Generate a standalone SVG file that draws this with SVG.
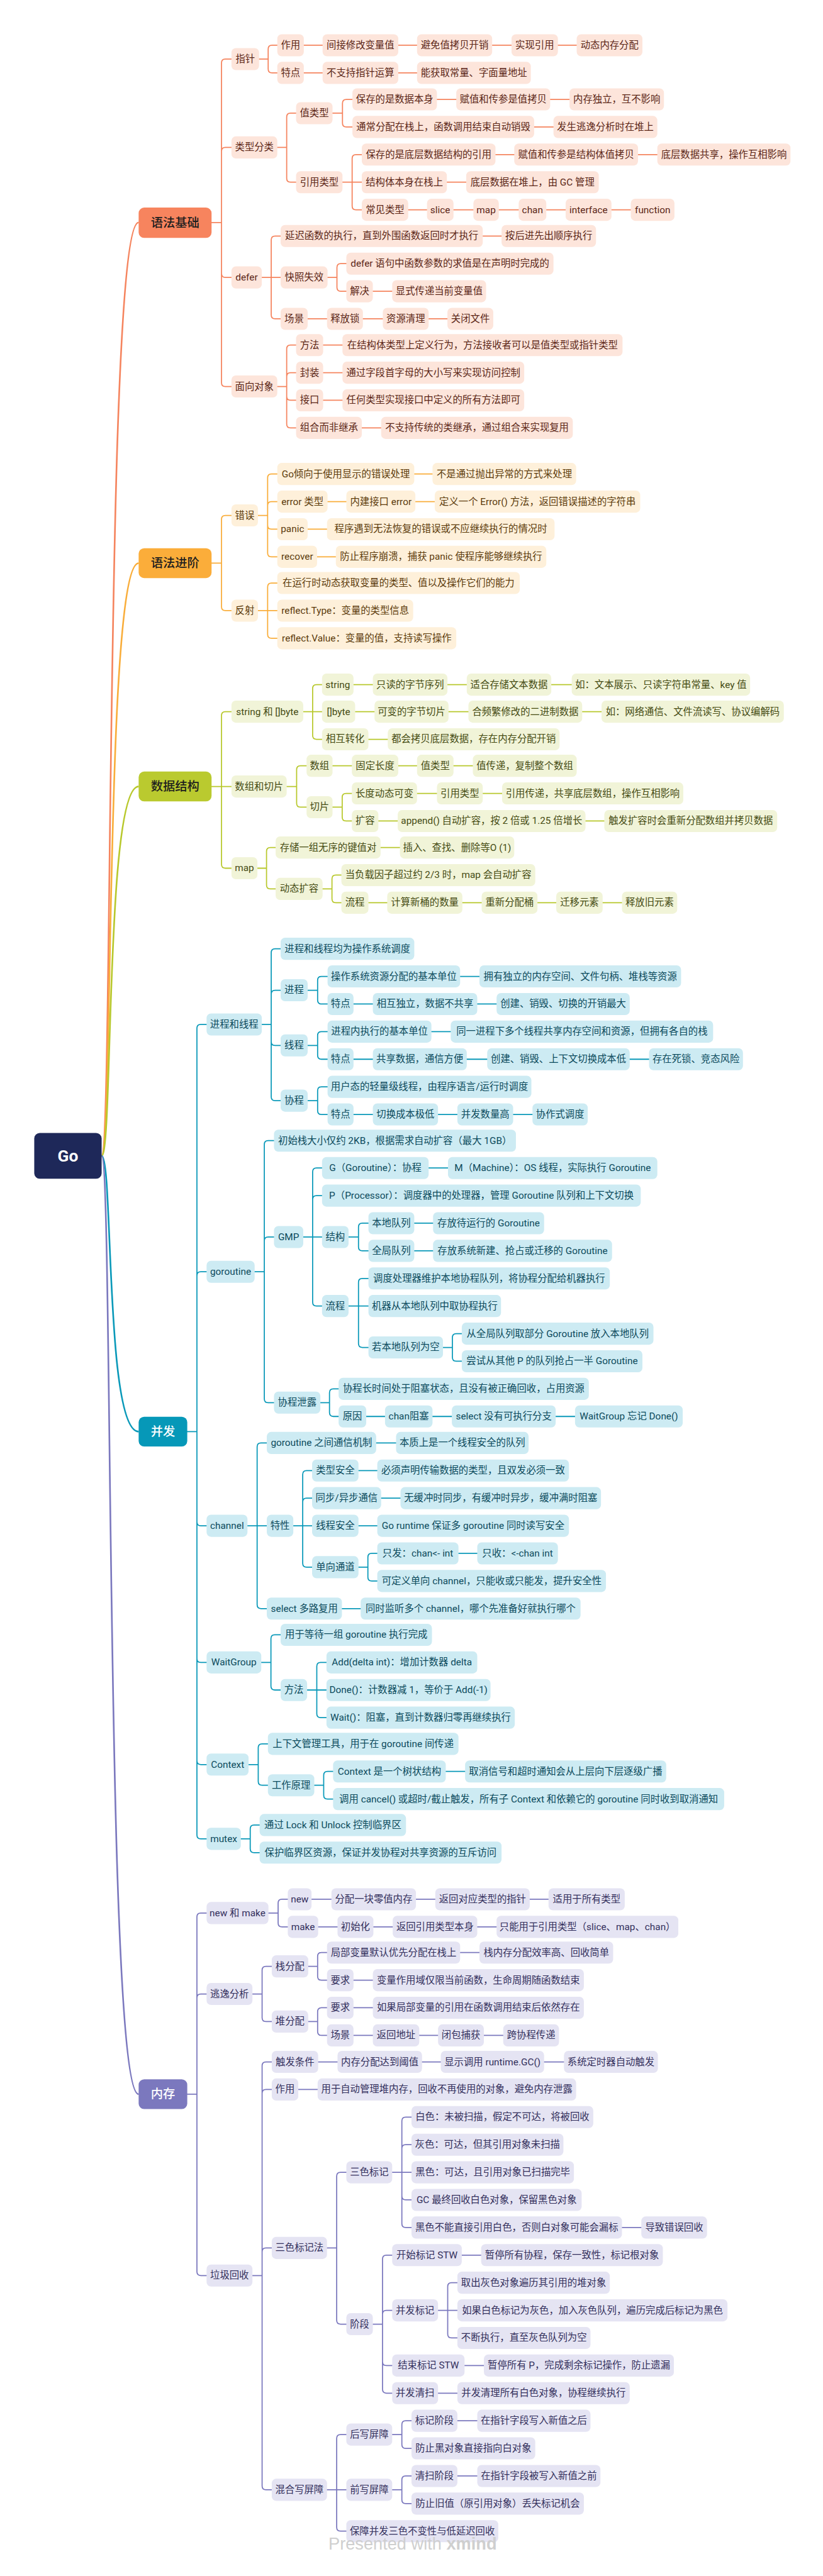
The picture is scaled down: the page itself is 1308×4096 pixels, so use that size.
<svg xmlns="http://www.w3.org/2000/svg" width="1308" height="4096" viewBox="0 0 1308 4096">
<style>
.n rect{rx:8px;ry:8px}
.n text{font-family:Roboto,"Noto Sans CJK SC",sans-serif;font-size:17.5px;text-anchor:middle;dominant-baseline:central}
.m rect{rx:10px;ry:10px}
.m text{font-size:22px;font-weight:500}
.c1 rect{fill:#FDE5DB}.c1 text{fill:#5B2516}
.c2 rect{fill:#FEF0DA}.c2 text{fill:#5C3B0B}
.c3 rect{fill:#F1F4D8}.c3 text{fill:#454B12}
.c4 rect{fill:#CDEBF3}.c4 text{fill:#0B4A5C}
.c5 rect{fill:#E5E4F3}.c5 text{fill:#332F5C}
.m.c1 rect{fill:#F7845E}.m.c1 text{fill:#1E1E1E}
.m.c2 rect{fill:#FBAD3A}.m.c2 text{fill:#1E1E1E}
.m.c3 rect{fill:#BACA2F}.m.c3 text{fill:#1E1E1E}
.m.c4 rect{fill:#0698B8}.m.c4 text{fill:#FFFFFF}
.m.c5 rect{fill:#7B78BE}.m.c5 text{fill:#FFFFFF}
.e{fill:none;stroke-width:2;stroke-linejoin:round;stroke-linecap:round}
.r{fill:none;stroke-width:3}
.e1{stroke:#F5845E}.e2{stroke:#F9AD3A}.e3{stroke:#B8C82C}.e4{stroke:#0A99B9}.e5{stroke:#7B78BE}
</style>
<rect width="1308" height="4096" fill="#FFFFFF"/>
<g transform="scale(0.8779)">
<g id="connectors">
<path class="r e1" d="M184 2093.5C205 2093.5 190 403 251 403"/>
<path class="r e2" d="M184 2093.5C205 2093.5 190 1020 251 1020"/>
<path class="r e3" d="M184 2093.5C205 2093.5 190 1424.5 251 1424.5"/>
<path class="r e4" d="M184 2093.5C205 2093.5 190 2593 251 2593"/>
<path class="r e5" d="M184 2093.5C205 2093.5 190 3793 251 3793"/>
<g class="e e1">
<path d="M383 403H401M401 403V114Q401 107 408 107H419M401 403V274Q401 267 408 267H419M401 403V495.5Q401 502.5 408 502.5H419M401 403V693Q401 700 408 700H419"/>
<path d="M469 107H485.5M485.5 107V89Q485.5 82 492.5 82H502M485.5 107V125Q485.5 132 492.5 132H502"/>
<path d="M550 82H1044M550 132H755"/>
<path d="M502 267H519M519 267V212Q519 205 526 205H536M519 267V323Q519 330 526 330H536"/>
<path d="M602 205H620M620 205V187Q620 180 627 180H638M620 205V223Q620 230 627 230H638"/>
<path d="M791 180H1031M967 230H1002"/>
<path d="M620 330H655M637.5 330V287Q637.5 280 644.5 280H655M637.5 330V373Q637.5 380 644.5 380H655"/>
<path d="M897 280H1190M809 330H844M739 380H1142"/>
<path d="M474 502.5H508M491 502.5V434.5Q491 427.5 498 427.5H508M491 502.5V570.5Q491 577.5 498 577.5H508"/>
<path d="M874 427.5H908"/>
<path d="M593 502.5H610M610 502.5V484.5Q610 477.5 617 477.5H627M610 502.5V520.5Q610 527.5 617 527.5H627"/>
<path d="M675 527.5H710M557 577.5H810"/>
<path d="M502 700H519M519 700V632Q519 625 526 625H536M519 700V682Q519 675 526 675H536M519 700V718Q519 725 526 725H536M519 700V768Q519 775 526 775H536"/>
<path d="M585 625H620M585 675H620M585 725H620M655 775H690"/>
</g>
<g class="e e2">
<path d="M383 1020H401M401 1020V940.5Q401 933.5 408 933.5H419M401 1020V1099Q401 1106 408 1106H419"/>
<path d="M467 933.5H484.5M484.5 933.5V865.5Q484.5 858.5 491.5 858.5H502M484.5 933.5V915.5Q484.5 908.5 491.5 908.5H502M484.5 933.5V951.5Q484.5 958.5 491.5 958.5H502M484.5 933.5V1001.5Q484.5 1008.5 491.5 1008.5H502"/>
<path d="M750 858.5H783M593 908.5H787M557 958.5H592M574 1008.5H608"/>
<path d="M467 1106H502M484.5 1106V1063Q484.5 1056 491.5 1056H502M484.5 1106V1149Q484.5 1156 491.5 1156H502"/>
</g>
<g class="e e3">
<path d="M383 1424.5H419M401 1424.5V1296Q401 1289 408 1289H419M401 1424.5V1565.5Q401 1572.5 408 1572.5H419"/>
<path d="M549 1289H583M566 1289V1247Q566 1240 573 1240H583M566 1289V1332Q566 1339 573 1339H583"/>
<path d="M640 1240H1035M643 1289H1089M667 1339H702"/>
<path d="M519 1424.5H537M537 1424.5V1394Q537 1387 544 1387H555M537 1424.5V1455Q537 1462 544 1462H555"/>
<path d="M602 1387H856"/>
<path d="M602 1462H619.5M619.5 1462V1444Q619.5 1437 626.5 1437H637M619.5 1462V1480Q619.5 1487 626.5 1487H637"/>
<path d="M755 1437H909M685 1487H1094"/>
<path d="M466 1572.5H482.5M482.5 1572.5V1542Q482.5 1535 489.5 1535H499M482.5 1572.5V1603Q482.5 1610 489.5 1610H499"/>
<path d="M689 1535H724"/>
<path d="M584 1610H601M601 1610V1592Q601 1585 608 1585H618M601 1610V1628Q601 1635 608 1635H618"/>
<path d="M667 1635H1126"/>
</g>
<g class="e e4">
<path d="M339 2593H356.5M356.5 2593V1862.5Q356.5 1855.5 363.5 1855.5H374M356.5 2593V2310.5Q356.5 2303.5 363.5 2303.5H374M356.5 2593V2756.5Q356.5 2763.5 363.5 2763.5H374M356.5 2593V3004Q356.5 3011 363.5 3011H374M356.5 2593V3189Q356.5 3196 363.5 3196H374M356.5 2593V3323.5Q356.5 3330.5 363.5 3330.5H374"/>
<path d="M474 1855.5H491M491 1855.5V1725.5Q491 1718.5 498 1718.5H508M491 1855.5V1800.5Q491 1793.5 498 1793.5H508M491 1855.5V1886.5Q491 1893.5 498 1893.5H508M491 1855.5V1986.5Q491 1993.5 498 1993.5H508"/>
<path d="M557 1793.5H575M575 1793.5V1775.5Q575 1768.5 582 1768.5H593M575 1793.5V1811.5Q575 1818.5 582 1818.5H593"/>
<path d="M833 1768.5H868M640 1818.5H899"/>
<path d="M557 1893.5H575M575 1893.5V1875.5Q575 1868.5 582 1868.5H593M575 1893.5V1911.5Q575 1918.5 582 1918.5H593"/>
<path d="M781 1868.5H816M640 1918.5H1175"/>
<path d="M557 1993.5H575M575 1993.5V1975.5Q575 1968.5 582 1968.5H593M575 1993.5V2011.5Q575 2018.5 582 2018.5H593"/>
<path d="M640 2018.5H964"/>
<path d="M461 2303.5H478.5M478.5 2303.5V2073Q478.5 2066 485.5 2066H496M478.5 2303.5V2247.5Q478.5 2240.5 485.5 2240.5H496M478.5 2303.5V2533.5Q478.5 2540.5 485.5 2540.5H496"/>
<path d="M549 2240.5H583M566 2240.5V2122.5Q566 2115.5 573 2115.5H583M566 2240.5V2172.5Q566 2165.5 573 2165.5H583M566 2240.5V2358.5Q566 2365.5 573 2365.5H583"/>
<path d="M776 2115.5H811"/>
<path d="M631 2240.5H649M649 2240.5V2222.5Q649 2215.5 656 2215.5H667M649 2240.5V2258.5Q649 2265.5 656 2265.5H667"/>
<path d="M750 2215.5H784M750 2265.5H784"/>
<path d="M631 2365.5H667M649 2365.5V2322.5Q649 2315.5 656 2315.5H667M649 2365.5V2433.5Q649 2440.5 656 2440.5H667"/>
<path d="M802 2440.5H819M819 2440.5V2422.5Q819 2415.5 826 2415.5H836M819 2440.5V2458.5Q819 2465.5 826 2465.5H836"/>
<path d="M580 2540.5H596.5M596.5 2540.5V2522.5Q596.5 2515.5 603.5 2515.5H613M596.5 2540.5V2558.5Q596.5 2565.5 603.5 2565.5H613"/>
<path d="M663 2565.5H1041"/>
<path d="M448 2763.5H483M465.5 2763.5V2620.5Q465.5 2613.5 472.5 2613.5H483M465.5 2763.5V2906.5Q465.5 2913.5 472.5 2913.5H483"/>
<path d="M681 2613.5H717M619 2913.5H653"/>
<path d="M531 2763.5H565M548 2763.5V2670.5Q548 2663.5 555 2663.5H565M548 2763.5V2720.5Q548 2713.5 555 2713.5H565M548 2763.5V2831.5Q548 2838.5 555 2838.5H565"/>
<path d="M649 2663.5H683M690 2713.5H725M649 2763.5H683"/>
<path d="M649 2838.5H666M666 2838.5V2820.5Q666 2813.5 673 2813.5H683M666 2838.5V2856.5Q666 2863.5 673 2863.5H683"/>
<path d="M830 2813.5H864"/>
<path d="M473 3011H490.5M490.5 3011V2968Q490.5 2961 497.5 2961H508M490.5 3011V3054Q490.5 3061 497.5 3061H508"/>
<path d="M556 3061H591M573.5 3061V3018Q573.5 3011 580.5 3011H591M573.5 3061V3104Q573.5 3111 580.5 3111H591"/>
<path d="M450 3196H467.5M467.5 3196V3165.5Q467.5 3158.5 474.5 3158.5H485M467.5 3196V3226.5Q467.5 3233.5 474.5 3233.5H485"/>
<path d="M569 3233.5H586M586 3233.5V3215.5Q586 3208.5 593 3208.5H603M586 3233.5V3251.5Q586 3258.5 593 3258.5H603"/>
<path d="M807 3208.5H842"/>
<path d="M436 3330.5H453M453 3330.5V3312.5Q453 3305.5 460 3305.5H470M453 3330.5V3348.5Q453 3355.5 460 3355.5H470"/>
</g>
<g class="e e5">
<path d="M339 3793H356.5M356.5 3793V3472Q356.5 3465 363.5 3465H374M356.5 3793V3618.5Q356.5 3611.5 363.5 3611.5H374M356.5 3793V4114.5Q356.5 4121.5 363.5 4121.5H374"/>
<path d="M486 3465H503.5M503.5 3465V3447Q503.5 3440 510.5 3440H521M503.5 3465V3483Q503.5 3490 510.5 3490H521"/>
<path d="M564 3440H993M576 3490H899"/>
<path d="M457 3611.5H474.5M474.5 3611.5V3568.5Q474.5 3561.5 481.5 3561.5H492M474.5 3611.5V3654.5Q474.5 3661.5 481.5 3661.5H492"/>
<path d="M558 3561.5H575M575 3561.5V3543.5Q575 3536.5 582 3536.5H592M575 3561.5V3579.5Q575 3586.5 582 3586.5H592"/>
<path d="M833 3536.5H868M640 3586.5H675"/>
<path d="M558 3661.5H575M575 3661.5V3643.5Q575 3636.5 582 3636.5H592M575 3661.5V3679.5Q575 3686.5 582 3686.5H592"/>
<path d="M640 3636.5H675M640 3686.5H911"/>
<path d="M457 4121.5H474.5M474.5 4121.5V3741.5Q474.5 3734.5 481.5 3734.5H492M474.5 4121.5V3791.5Q474.5 3784.5 481.5 3784.5H492M474.5 4121.5V4078.5Q474.5 4071.5 481.5 4071.5H492M474.5 4121.5V4502.5Q474.5 4509.5 481.5 4509.5H492"/>
<path d="M576 3734.5H1021M540 3784.5H575"/>
<path d="M592 4071.5H609.5M609.5 4071.5V3941.5Q609.5 3934.5 616.5 3934.5H627M609.5 4071.5V4202.5Q609.5 4209.5 616.5 4209.5H627"/>
<path d="M710 3934.5H745M727.5 3934.5V3841.5Q727.5 3834.5 734.5 3834.5H745M727.5 3934.5V3891.5Q727.5 3884.5 734.5 3884.5H745M727.5 3934.5V3977.5Q727.5 3984.5 734.5 3984.5H745M727.5 3934.5V4027.5Q727.5 4034.5 734.5 4034.5H745"/>
<path d="M1126 4034.5H1161"/>
<path d="M675 4209.5H692.5M692.5 4209.5V4091.5Q692.5 4084.5 699.5 4084.5H710M692.5 4209.5V4191.5Q692.5 4184.5 699.5 4184.5H710M692.5 4209.5V4277.5Q692.5 4284.5 699.5 4284.5H710M692.5 4209.5V4327.5Q692.5 4334.5 699.5 4334.5H710"/>
<path d="M836 4084.5H871M841 4284.5H876M793 4334.5H828"/>
<path d="M793 4184.5H828M810.5 4184.5V4141.5Q810.5 4134.5 817.5 4134.5H828M810.5 4184.5V4227.5Q810.5 4234.5 817.5 4234.5H828"/>
<path d="M592 4509.5H627M609.5 4509.5V4416.5Q609.5 4409.5 616.5 4409.5H627M609.5 4509.5V4577.5Q609.5 4584.5 616.5 4584.5H627"/>
<path d="M710 4409.5H727.5M727.5 4409.5V4391.5Q727.5 4384.5 734.5 4384.5H745M727.5 4409.5V4427.5Q727.5 4434.5 734.5 4434.5H745"/>
<path d="M828 4384.5H864"/>
<path d="M710 4509.5H727.5M727.5 4509.5V4491.5Q727.5 4484.5 734.5 4484.5H745M727.5 4509.5V4527.5Q727.5 4534.5 734.5 4534.5H745"/>
<path d="M828 4484.5H864"/>
</g>
</g>
<g id="root"><rect x="62" y="2052" width="122" height="83" rx="10" fill="#1E2859"/><text x="123" y="2094" font-family="Roboto,'Noto Sans CJK SC',sans-serif" font-size="30" font-weight="700" fill="#FFFFFF" text-anchor="middle" dominant-baseline="central">Go</text></g>
<g id="m1" class="n m c1"><rect x="251" y="376" width="132" height="55"/><text x="317" y="403.5">语法基础</text></g>
<g id="m2" class="n m c2"><rect x="251" y="993" width="132" height="54"/><text x="317" y="1020">语法进阶</text></g>
<g id="m3" class="n m c3"><rect x="251" y="1397.5" width="132" height="54"/><text x="317" y="1424.5">数据结构</text></g>
<g id="m4" class="n m c4"><rect x="251" y="2566" width="88" height="54"/><text x="295" y="2593">并发</text></g>
<g id="m5" class="n m c5"><rect x="251" y="3766" width="88" height="54"/><text x="295" y="3793">内存</text></g>
<g id="n1" class="n c1"><rect x="419" y="87" width="50" height="40"/><text x="444" y="107">指针</text></g>
<g id="n2" class="n c1"><rect x="502" y="62" width="48" height="40"/><text x="526" y="82">作用</text></g>
<g id="n3" class="n c1"><rect x="584" y="62" width="137" height="40"/><text x="652.5" y="82">间接修改变量值</text></g>
<g id="n4" class="n c1"><rect x="755" y="62" width="136" height="40"/><text x="823" y="82">避免值拷贝开销</text></g>
<g id="n5" class="n c1"><rect x="926" y="62" width="84" height="40"/><text x="968" y="82">实现引用</text></g>
<g id="n6" class="n c1"><rect x="1044" y="62" width="119" height="40"/><text x="1103.5" y="82">动态内存分配</text></g>
<g id="n7" class="n c1"><rect x="502" y="112" width="48" height="40"/><text x="526" y="132">特点</text></g>
<g id="n8" class="n c1"><rect x="584" y="112" width="137" height="40"/><text x="652.5" y="132">不支持指针运算</text></g>
<g id="n9" class="n c1"><rect x="755" y="112" width="206" height="40"/><text x="858" y="132">能获取常量、字面量地址</text></g>
<g id="n10" class="n c1"><rect x="419" y="247" width="83" height="40"/><text x="460.5" y="267">类型分类</text></g>
<g id="n11" class="n c1"><rect x="536" y="185" width="66" height="40"/><text x="569" y="205">值类型</text></g>
<g id="n12" class="n c1"><rect x="638" y="160" width="153" height="40"/><text x="714.5" y="180">保存的是数据本身</text></g>
<g id="n13" class="n c1"><rect x="826" y="160" width="170" height="40"/><text x="911" y="180">赋值和传参是值拷贝</text></g>
<g id="n14" class="n c1"><rect x="1031" y="160" width="171" height="40"/><text x="1116.5" y="180">内存独立，互不影响</text></g>
<g id="n15" class="n c1"><rect x="638" y="210" width="329" height="40"/><text x="802.5" y="230">通常分配在栈上，函数调用结束自动销毁</text></g>
<g id="n16" class="n c1"><rect x="1002" y="210" width="188" height="40"/><text x="1096" y="230">发生逃逸分析时在堆上</text></g>
<g id="n17" class="n c1"><rect x="536" y="310" width="84" height="40"/><text x="578" y="330">引用类型</text></g>
<g id="n18" class="n c1"><rect x="655" y="260" width="242" height="40"/><text x="776" y="280">保存的是底层数据结构的引用</text></g>
<g id="n19" class="n c1"><rect x="931" y="260" width="224" height="40"/><text x="1043" y="280">赋值和传参是结构体值拷贝</text></g>
<g id="n20" class="n c1"><rect x="1190" y="260" width="241" height="40"/><text x="1310.5" y="280">底层数据共享，操作互相影响</text></g>
<g id="n21" class="n c1"><rect x="655" y="310" width="154" height="40"/><text x="732" y="330">结构体本身在栈上</text></g>
<g id="n22" class="n c1"><rect x="844" y="310" width="240" height="40"/><text x="964" y="330">底层数据在堆上，由 GC 管理</text></g>
<g id="n23" class="n c1"><rect x="655" y="360" width="84" height="40"/><text x="697" y="380">常见类型</text></g>
<g id="n24" class="n c1"><rect x="773" y="360" width="48" height="40"/><text x="797" y="380">slice</text></g>
<g id="n25" class="n c1"><rect x="857" y="360" width="46" height="40"/><text x="880" y="380">map</text></g>
<g id="n26" class="n c1"><rect x="939" y="360" width="50" height="40"/><text x="964" y="380">chan</text></g>
<g id="n27" class="n c1"><rect x="1024" y="360" width="83" height="40"/><text x="1065.5" y="380">interface</text></g>
<g id="n28" class="n c1"><rect x="1142" y="360" width="79" height="40"/><text x="1181.5" y="380">function</text></g>
<g id="n29" class="n c1"><rect x="419" y="482.5" width="55" height="40"/><text x="446.5" y="502.5">defer</text></g>
<g id="n30" class="n c1"><rect x="508" y="407.5" width="366" height="40"/><text x="691" y="427.5">延迟函数的执行，直到外围函数返回时才执行</text></g>
<g id="n31" class="n c1"><rect x="908" y="407.5" width="171" height="40"/><text x="993.5" y="427.5">按后进先出顺序执行</text></g>
<g id="n32" class="n c1"><rect x="508" y="482.5" width="85" height="40"/><text x="550.5" y="502.5">快照失效</text></g>
<g id="n33" class="n c1"><rect x="627" y="457.5" width="375" height="40"/><text x="814.5" y="477.5">defer 语句中函数参数的求值是在声明时完成的</text></g>
<g id="n34" class="n c1"><rect x="627" y="507.5" width="48" height="40"/><text x="651" y="527.5">解决</text></g>
<g id="n35" class="n c1"><rect x="710" y="507.5" width="170" height="40"/><text x="795" y="527.5">显式传递当前变量值</text></g>
<g id="n36" class="n c1"><rect x="508" y="557.5" width="49" height="40"/><text x="532.5" y="577.5">场景</text></g>
<g id="n37" class="n c1"><rect x="592" y="557.5" width="65" height="40"/><text x="624.5" y="577.5">释放锁</text></g>
<g id="n38" class="n c1"><rect x="693" y="557.5" width="83" height="40"/><text x="734.5" y="577.5">资源清理</text></g>
<g id="n39" class="n c1"><rect x="810" y="557.5" width="83" height="40"/><text x="851.5" y="577.5">关闭文件</text></g>
<g id="n40" class="n c1"><rect x="419" y="680" width="83" height="40"/><text x="460.5" y="700">面向对象</text></g>
<g id="n41" class="n c1"><rect x="536" y="605" width="49" height="40"/><text x="560.5" y="625">方法</text></g>
<g id="n42" class="n c1"><rect x="620" y="605" width="507" height="40"/><text x="873.5" y="625">在结构体类型上定义行为，方法接收者可以是值类型或指针类型</text></g>
<g id="n43" class="n c1"><rect x="536" y="655" width="49" height="40"/><text x="560.5" y="675">封装</text></g>
<g id="n44" class="n c1"><rect x="620" y="655" width="329" height="40"/><text x="784.5" y="675">通过字段首字母的大小写来实现访问控制</text></g>
<g id="n45" class="n c1"><rect x="536" y="705" width="49" height="40"/><text x="560.5" y="725">接口</text></g>
<g id="n46" class="n c1"><rect x="620" y="705" width="329" height="40"/><text x="784.5" y="725">任何类型实现接口中定义的所有方法即可</text></g>
<g id="n47" class="n c1"><rect x="536" y="755" width="119" height="40"/><text x="595.5" y="775">组合而非继承</text></g>
<g id="n48" class="n c1"><rect x="690" y="755" width="347" height="40"/><text x="863.5" y="775">不支持传统的类继承，通过组合来实现复用</text></g>
<g id="p1" class="n c2"><rect x="419" y="913.5" width="48" height="40"/><text x="443" y="933.5">错误</text></g>
<g id="p2" class="n c2"><rect x="502" y="838.5" width="248" height="40"/><text x="626" y="858.5">Go倾向于使用显示的错误处理</text></g>
<g id="p3" class="n c2"><rect x="783" y="838.5" width="260" height="40"/><text x="913" y="858.5">不是通过抛出异常的方式来处理</text></g>
<g id="p4" class="n c2"><rect x="502" y="888.5" width="91" height="40"/><text x="547.5" y="908.5">error 类型</text></g>
<g id="p5" class="n c2"><rect x="627" y="888.5" width="125" height="40"/><text x="689.5" y="908.5">内建接口 error</text></g>
<g id="p6" class="n c2"><rect x="787" y="888.5" width="372" height="40"/><text x="973" y="908.5">定义一个 Error() 方法，返回错误描述的字符串</text></g>
<g id="p7" class="n c2"><rect x="502" y="938.5" width="55" height="40"/><text x="529.5" y="958.5">panic</text></g>
<g id="p8" class="n c2"><rect x="592" y="938.5" width="412" height="40"/><text x="798" y="958.5">程序遇到无法恢复的错误或不应继续执行的情况时</text></g>
<g id="p9" class="n c2"><rect x="502" y="988.5" width="72" height="40"/><text x="538" y="1008.5">recover</text></g>
<g id="p10" class="n c2"><rect x="608" y="988.5" width="381" height="40"/><text x="798.5" y="1008.5">防止程序崩溃，捕获 panic 使程序能够继续执行</text></g>
<g id="p11" class="n c2"><rect x="419" y="1086" width="48" height="40"/><text x="443" y="1106">反射</text></g>
<g id="p12" class="n c2"><rect x="502" y="1036" width="439" height="40"/><text x="721.5" y="1056">在运行时动态获取变量的类型、值以及操作它们的能力</text></g>
<g id="p13" class="n c2"><rect x="502" y="1086" width="246" height="40"/><text x="625" y="1106">reflect.Type：变量的类型信息</text></g>
<g id="p14" class="n c2"><rect x="502" y="1136" width="324" height="40"/><text x="664" y="1156">reflect.Value：变量的值，支持读写操作</text></g>
<g id="d1" class="n c3"><rect x="419" y="1269" width="130" height="40"/><text x="484" y="1289">string 和 []byte</text></g>
<g id="d2" class="n c3"><rect x="583" y="1220" width="57" height="40"/><text x="611.5" y="1240">string</text></g>
<g id="d3" class="n c3"><rect x="675" y="1220" width="135" height="40"/><text x="742.5" y="1240">只读的字节序列</text></g>
<g id="d4" class="n c3"><rect x="845" y="1220" width="153" height="40"/><text x="921.5" y="1240">适合存储文本数据</text></g>
<g id="d5" class="n c3"><rect x="1035" y="1220" width="323" height="40"/><text x="1196.5" y="1240">如：文本展示、只读字符串常量、key 值</text></g>
<g id="d6" class="n c3"><rect x="583" y="1269" width="60" height="40"/><text x="613" y="1289">[]byte</text></g>
<g id="d7" class="n c3"><rect x="678" y="1269" width="134" height="40"/><text x="745" y="1289">可变的字节切片</text></g>
<g id="d8" class="n c3"><rect x="848" y="1269" width="206" height="40"/><text x="951" y="1289">合频繁修改的二进制数据</text></g>
<g id="d9" class="n c3"><rect x="1089" y="1269" width="330" height="40"/><text x="1254" y="1289">如：网络通信、文件流读写、协议编解码</text></g>
<g id="d10" class="n c3"><rect x="583" y="1319" width="84" height="40"/><text x="625" y="1339">相互转化</text></g>
<g id="d11" class="n c3"><rect x="702" y="1319" width="311" height="40"/><text x="857.5" y="1339">都会拷贝底层数据，存在内存分配开销</text></g>
<g id="d12" class="n c3"><rect x="419" y="1404.5" width="100" height="40"/><text x="469" y="1424.5">数组和切片</text></g>
<g id="d13" class="n c3"><rect x="555" y="1367" width="47" height="40"/><text x="578.5" y="1387">数组</text></g>
<g id="d14" class="n c3"><rect x="637" y="1367" width="84" height="40"/><text x="679" y="1387">固定长度</text></g>
<g id="d15" class="n c3"><rect x="755" y="1367" width="66" height="40"/><text x="788" y="1387">值类型</text></g>
<g id="d16" class="n c3"><rect x="856" y="1367" width="188" height="40"/><text x="950" y="1387">值传递，复制整个数组</text></g>
<g id="d17" class="n c3"><rect x="555" y="1442" width="47" height="40"/><text x="578.5" y="1462">切片</text></g>
<g id="d18" class="n c3"><rect x="637" y="1417" width="118" height="40"/><text x="696" y="1437">长度动态可变</text></g>
<g id="d19" class="n c3"><rect x="791" y="1417" width="83" height="40"/><text x="832.5" y="1437">引用类型</text></g>
<g id="d20" class="n c3"><rect x="909" y="1417" width="328" height="40"/><text x="1073" y="1437">引用传递，共享底层数组，操作互相影响</text></g>
<g id="d21" class="n c3"><rect x="637" y="1467" width="48" height="40"/><text x="661" y="1487">扩容</text></g>
<g id="d22" class="n c3"><rect x="720" y="1467" width="340" height="40"/><text x="890" y="1487">append() 自动扩容，按 2 倍或 1.25 倍增长</text></g>
<g id="d23" class="n c3"><rect x="1094" y="1467" width="313" height="40"/><text x="1250.5" y="1487">触发扩容时会重新分配数组并拷贝数据</text></g>
<g id="d24" class="n c3"><rect x="419" y="1552.5" width="47" height="40"/><text x="442.5" y="1572.5">map</text></g>
<g id="d25" class="n c3"><rect x="499" y="1515" width="190" height="40"/><text x="594" y="1535">存储一组无序的键值对</text></g>
<g id="d26" class="n c3"><rect x="724" y="1515" width="207" height="40"/><text x="827.5" y="1535">插入、查找、删除等O (1)</text></g>
<g id="d27" class="n c3"><rect x="499" y="1590" width="85" height="40"/><text x="541.5" y="1610">动态扩容</text></g>
<g id="d28" class="n c3"><rect x="618" y="1565" width="351" height="40"/><text x="793.5" y="1585">当负载因子超过约 2/3 时，map 会自动扩容</text></g>
<g id="d29" class="n c3"><rect x="618" y="1615" width="49" height="40"/><text x="642.5" y="1635">流程</text></g>
<g id="d30" class="n c3"><rect x="701" y="1615" width="136" height="40"/><text x="769" y="1635">计算新桶的数量</text></g>
<g id="d31" class="n c3"><rect x="872" y="1615" width="101" height="40"/><text x="922.5" y="1635">重新分配桶</text></g>
<g id="d32" class="n c3"><rect x="1007" y="1615" width="84" height="40"/><text x="1049" y="1635">迁移元素</text></g>
<g id="d33" class="n c3"><rect x="1126" y="1615" width="100" height="40"/><text x="1176" y="1635">释放旧元素</text></g>
<g id="g1" class="n c4"><rect x="374" y="1835.5" width="100" height="40"/><text x="424" y="1855.5">进程和线程</text></g>
<g id="g2" class="n c4"><rect x="508" y="1698.5" width="242" height="40"/><text x="629" y="1718.5">进程和线程均为操作系统调度</text></g>
<g id="g3" class="n c4"><rect x="508" y="1773.5" width="49" height="40"/><text x="532.5" y="1793.5">进程</text></g>
<g id="g4" class="n c4"><rect x="593" y="1748.5" width="240" height="40"/><text x="713" y="1768.5">操作系统资源分配的基本单位</text></g>
<g id="g5" class="n c4"><rect x="868" y="1748.5" width="365" height="40"/><text x="1050.5" y="1768.5">拥有独立的内存空间、文件句柄、堆栈等资源</text></g>
<g id="g6" class="n c4"><rect x="593" y="1798.5" width="47" height="40"/><text x="616.5" y="1818.5">特点</text></g>
<g id="g7" class="n c4"><rect x="675" y="1798.5" width="189" height="40"/><text x="769.5" y="1818.5">相互独立，数据不共享</text></g>
<g id="g8" class="n c4"><rect x="899" y="1798.5" width="241" height="40"/><text x="1019.5" y="1818.5">创建、销毁、切换的开销最大</text></g>
<g id="g9" class="n c4"><rect x="508" y="1873.5" width="49" height="40"/><text x="532.5" y="1893.5">线程</text></g>
<g id="g10" class="n c4"><rect x="593" y="1848.5" width="188" height="40"/><text x="687" y="1868.5">进程内执行的基本单位</text></g>
<g id="g11" class="n c4"><rect x="816" y="1848.5" width="475" height="40"/><text x="1053.5" y="1868.5">同一进程下多个线程共享内存空间和资源，但拥有各自的栈</text></g>
<g id="g12" class="n c4"><rect x="593" y="1898.5" width="47" height="40"/><text x="616.5" y="1918.5">特点</text></g>
<g id="g13" class="n c4"><rect x="675" y="1898.5" width="170" height="40"/><text x="760" y="1918.5">共享数据，通信方便</text></g>
<g id="g14" class="n c4"><rect x="882" y="1898.5" width="258" height="40"/><text x="1011" y="1918.5">创建、销毁、上下文切换成本低</text></g>
<g id="g15" class="n c4"><rect x="1175" y="1898.5" width="170" height="40"/><text x="1260" y="1918.5">存在死锁、竞态风险</text></g>
<g id="g16" class="n c4"><rect x="508" y="1973.5" width="49" height="40"/><text x="532.5" y="1993.5">协程</text></g>
<g id="g17" class="n c4"><rect x="593" y="1948.5" width="369" height="40"/><text x="777.5" y="1968.5">用户态的轻量级线程，由程序语言/运行时调度</text></g>
<g id="g18" class="n c4"><rect x="593" y="1998.5" width="47" height="40"/><text x="616.5" y="2018.5">特点</text></g>
<g id="g19" class="n c4"><rect x="675" y="1998.5" width="118" height="40"/><text x="734" y="2018.5">切换成本极低</text></g>
<g id="g20" class="n c4"><rect x="828" y="1998.5" width="101" height="40"/><text x="878.5" y="2018.5">并发数量高</text></g>
<g id="g21" class="n c4"><rect x="964" y="1998.5" width="100" height="40"/><text x="1014" y="2018.5">协作式调度</text></g>
<g id="g22" class="n c4"><rect x="374" y="2283.5" width="87" height="40"/><text x="417.5" y="2303.5">goroutine</text></g>
<g id="g23" class="n c4"><rect x="496" y="2046" width="438" height="40"/><text x="715" y="2066">初始栈大小仅约 2KB，根据需求自动扩容（最大 1GB）</text></g>
<g id="g24" class="n c4"><rect x="496" y="2220.5" width="53" height="40"/><text x="522.5" y="2240.5">GMP</text></g>
<g id="g25" class="n c4"><rect x="583" y="2095.5" width="193" height="40"/><text x="679.5" y="2115.5">G（Goroutine）：协程</text></g>
<g id="g26" class="n c4"><rect x="811" y="2095.5" width="379" height="40"/><text x="1000.5" y="2115.5">M（Machine）：OS 线程，实际执行 Goroutine</text></g>
<g id="g27" class="n c4"><rect x="583" y="2145.5" width="577" height="40"/><text x="871.5" y="2165.5">P（Processor）：调度器中的处理器，管理 Goroutine 队列和上下文切换</text></g>
<g id="g28" class="n c4"><rect x="583" y="2220.5" width="48" height="40"/><text x="607" y="2240.5">结构</text></g>
<g id="g29" class="n c4"><rect x="667" y="2195.5" width="83" height="40"/><text x="708.5" y="2215.5">本地队列</text></g>
<g id="g30" class="n c4"><rect x="784" y="2195.5" width="201" height="40"/><text x="884.5" y="2215.5">存放待运行的 Goroutine</text></g>
<g id="g31" class="n c4"><rect x="667" y="2245.5" width="83" height="40"/><text x="708.5" y="2265.5">全局队列</text></g>
<g id="g32" class="n c4"><rect x="784" y="2245.5" width="324" height="40"/><text x="946" y="2265.5">存放系统新建、抢占或迁移的 Goroutine</text></g>
<g id="g33" class="n c4"><rect x="583" y="2345.5" width="48" height="40"/><text x="607" y="2365.5">流程</text></g>
<g id="g34" class="n c4"><rect x="667" y="2295.5" width="437" height="40"/><text x="885.5" y="2315.5">调度处理器维护本地协程队列，将协程分配给机器执行</text></g>
<g id="g35" class="n c4"><rect x="667" y="2345.5" width="240" height="40"/><text x="787" y="2365.5">机器从本地队列中取协程执行</text></g>
<g id="g36" class="n c4"><rect x="667" y="2420.5" width="135" height="40"/><text x="734.5" y="2440.5">若本地队列为空</text></g>
<g id="g37" class="n c4"><rect x="836" y="2395.5" width="347" height="40"/><text x="1009.5" y="2415.5">从全局队列取部分 Goroutine 放入本地队列</text></g>
<g id="g38" class="n c4"><rect x="836" y="2445.5" width="327" height="40"/><text x="999.5" y="2465.5">尝试从其他 P 的队列抢占一半 Goroutine</text></g>
<g id="g39" class="n c4"><rect x="496" y="2520.5" width="84" height="40"/><text x="538" y="2540.5">协程泄露</text></g>
<g id="g40" class="n c4"><rect x="613" y="2495.5" width="453" height="40"/><text x="839.5" y="2515.5">协程长时间处于阻塞状态，且没有被正确回收，占用资源</text></g>
<g id="g41" class="n c4"><rect x="613" y="2545.5" width="50" height="40"/><text x="638" y="2565.5">原因</text></g>
<g id="g42" class="n c4"><rect x="697" y="2545.5" width="86" height="40"/><text x="740" y="2565.5">chan阻塞</text></g>
<g id="g43" class="n c4"><rect x="818" y="2545.5" width="188" height="40"/><text x="912" y="2565.5">select 没有可执行分支</text></g>
<g id="g44" class="n c4"><rect x="1041" y="2545.5" width="195" height="40"/><text x="1138.5" y="2565.5">WaitGroup 忘记 Done()</text></g>
<g id="g45" class="n c4"><rect x="374" y="2743.5" width="74" height="40"/><text x="411" y="2763.5">channel</text></g>
<g id="g46" class="n c4"><rect x="483" y="2593.5" width="198" height="40"/><text x="582" y="2613.5">goroutine 之间通信机制</text></g>
<g id="g47" class="n c4"><rect x="717" y="2593.5" width="240" height="40"/><text x="837" y="2613.5">本质上是一个线程安全的队列</text></g>
<g id="g48" class="n c4"><rect x="483" y="2743.5" width="48" height="40"/><text x="507" y="2763.5">特性</text></g>
<g id="g49" class="n c4"><rect x="565" y="2643.5" width="84" height="40"/><text x="607" y="2663.5">类型安全</text></g>
<g id="g50" class="n c4"><rect x="683" y="2643.5" width="347" height="40"/><text x="856.5" y="2663.5">必须声明传输数据的类型，且双发必须一致</text></g>
<g id="g51" class="n c4"><rect x="565" y="2693.5" width="125" height="40"/><text x="627.5" y="2713.5">同步/异步通信</text></g>
<g id="g52" class="n c4"><rect x="725" y="2693.5" width="363" height="40"/><text x="906.5" y="2713.5">无缓冲时同步，有缓冲时异步，缓冲满时阻塞</text></g>
<g id="g53" class="n c4"><rect x="565" y="2743.5" width="84" height="40"/><text x="607" y="2763.5">线程安全</text></g>
<g id="g54" class="n c4"><rect x="683" y="2743.5" width="347" height="40"/><text x="856.5" y="2763.5">Go runtime 保证多 goroutine 同时读写安全</text></g>
<g id="g55" class="n c4"><rect x="565" y="2818.5" width="84" height="40"/><text x="607" y="2838.5">单向通道</text></g>
<g id="g56" class="n c4"><rect x="683" y="2793.5" width="147" height="40"/><text x="756.5" y="2813.5">只发：chan&lt;- int</text></g>
<g id="g57" class="n c4"><rect x="864" y="2793.5" width="146" height="40"/><text x="937" y="2813.5">只收：&lt;-chan int</text></g>
<g id="g58" class="n c4"><rect x="683" y="2843.5" width="414" height="40"/><text x="890" y="2863.5">可定义单向 channel，只能收或只能发，提升安全性</text></g>
<g id="g59" class="n c4"><rect x="483" y="2893.5" width="136" height="40"/><text x="551" y="2913.5">select 多路复用</text></g>
<g id="g60" class="n c4"><rect x="653" y="2893.5" width="398" height="40"/><text x="852" y="2913.5">同时监听多个 channel，哪个先准备好就执行哪个</text></g>
<g id="g61" class="n c4"><rect x="374" y="2991" width="99" height="40"/><text x="423.5" y="3011">WaitGroup</text></g>
<g id="g62" class="n c4"><rect x="508" y="2941" width="274" height="40"/><text x="645" y="2961">用于等待一组 goroutine 执行完成</text></g>
<g id="g63" class="n c4"><rect x="508" y="3041" width="48" height="40"/><text x="532" y="3061">方法</text></g>
<g id="g64" class="n c4"><rect x="591" y="2991" width="273" height="40"/><text x="727.5" y="3011">Add(delta int)：增加计数器 delta</text></g>
<g id="g65" class="n c4"><rect x="591" y="3041" width="297" height="40"/><text x="739.5" y="3061">Done()：计数器减 1，等价于 Add(-1)</text></g>
<g id="g66" class="n c4"><rect x="591" y="3091" width="341" height="40"/><text x="761.5" y="3111">Wait()：阻塞，直到计数器归零再继续执行</text></g>
<g id="g67" class="n c4"><rect x="374" y="3176" width="76" height="40"/><text x="412" y="3196">Context</text></g>
<g id="g68" class="n c4"><rect x="485" y="3138.5" width="345" height="40"/><text x="657.5" y="3158.5">上下文管理工具，用于在 goroutine 间传递</text></g>
<g id="g69" class="n c4"><rect x="485" y="3213.5" width="84" height="40"/><text x="527" y="3233.5">工作原理</text></g>
<g id="g70" class="n c4"><rect x="603" y="3188.5" width="204" height="40"/><text x="705" y="3208.5">Context 是一个树状结构</text></g>
<g id="g71" class="n c4"><rect x="842" y="3188.5" width="364" height="40"/><text x="1024" y="3208.5">取消信号和超时通知会从上层向下层逐级广播</text></g>
<g id="g72" class="n c4"><rect x="603" y="3238.5" width="708" height="40"/><text x="957" y="3258.5">调用 cancel() 或超时/截止触发，所有子 Context 和依赖它的 goroutine 同时收到取消通知</text></g>
<g id="g73" class="n c4"><rect x="374" y="3310.5" width="62" height="40"/><text x="405" y="3330.5">mutex</text></g>
<g id="g74" class="n c4"><rect x="470" y="3285.5" width="265" height="40"/><text x="602.5" y="3305.5">通过 Lock 和 Unlock 控制临界区</text></g>
<g id="g75" class="n c4"><rect x="470" y="3335.5" width="438" height="40"/><text x="689" y="3355.5">保护临界区资源，保证并发协程对共享资源的互斥访问</text></g>
<g id="k1" class="n c5"><rect x="374" y="3445" width="112" height="40"/><text x="430" y="3465">new 和 make</text></g>
<g id="k2" class="n c5"><rect x="521" y="3420" width="43" height="40"/><text x="542.5" y="3440">new</text></g>
<g id="k3" class="n c5"><rect x="600" y="3420" width="153" height="40"/><text x="676.5" y="3440">分配一块零值内存</text></g>
<g id="k4" class="n c5"><rect x="788" y="3420" width="171" height="40"/><text x="873.5" y="3440">返回对应类型的指针</text></g>
<g id="k5" class="n c5"><rect x="993" y="3420" width="138" height="40"/><text x="1062" y="3440">适用于所有类型</text></g>
<g id="k6" class="n c5"><rect x="521" y="3470" width="55" height="40"/><text x="548.5" y="3490">make</text></g>
<g id="k7" class="n c5"><rect x="611" y="3470" width="65" height="40"/><text x="643.5" y="3490">初始化</text></g>
<g id="k8" class="n c5"><rect x="711" y="3470" width="153" height="40"/><text x="787.5" y="3490">返回引用类型本身</text></g>
<g id="k9" class="n c5"><rect x="899" y="3470" width="329" height="40"/><text x="1063.5" y="3490">只能用于引用类型（slice、map、chan）</text></g>
<g id="k10" class="n c5"><rect x="374" y="3591.5" width="83" height="40"/><text x="415.5" y="3611.5">逃逸分析</text></g>
<g id="k11" class="n c5"><rect x="492" y="3541.5" width="66" height="40"/><text x="525" y="3561.5">栈分配</text></g>
<g id="k12" class="n c5"><rect x="592" y="3516.5" width="241" height="40"/><text x="712.5" y="3536.5">局部变量默认优先分配在栈上</text></g>
<g id="k13" class="n c5"><rect x="868" y="3516.5" width="242" height="40"/><text x="989" y="3536.5">栈内存分配效率高、回收简单</text></g>
<g id="k14" class="n c5"><rect x="592" y="3566.5" width="48" height="40"/><text x="616" y="3586.5">要求</text></g>
<g id="k15" class="n c5"><rect x="675" y="3566.5" width="382" height="40"/><text x="866" y="3586.5">变量作用域仅限当前函数，生命周期随函数结束</text></g>
<g id="k16" class="n c5"><rect x="492" y="3641.5" width="66" height="40"/><text x="525" y="3661.5">堆分配</text></g>
<g id="k17" class="n c5"><rect x="592" y="3616.5" width="48" height="40"/><text x="616" y="3636.5">要求</text></g>
<g id="k18" class="n c5"><rect x="675" y="3616.5" width="382" height="40"/><text x="866" y="3636.5">如果局部变量的引用在函数调用结束后依然存在</text></g>
<g id="k19" class="n c5"><rect x="592" y="3666.5" width="48" height="40"/><text x="616" y="3686.5">场景</text></g>
<g id="k20" class="n c5"><rect x="675" y="3666.5" width="84" height="40"/><text x="717" y="3686.5">返回地址</text></g>
<g id="k21" class="n c5"><rect x="793" y="3666.5" width="83" height="40"/><text x="834.5" y="3686.5">闭包捕获</text></g>
<g id="k22" class="n c5"><rect x="911" y="3666.5" width="101" height="40"/><text x="961.5" y="3686.5">跨协程传递</text></g>
<g id="k23" class="n c5"><rect x="374" y="4101.5" width="83" height="40"/><text x="415.5" y="4121.5">垃圾回收</text></g>
<g id="k24" class="n c5"><rect x="492" y="3714.5" width="84" height="40"/><text x="534" y="3734.5">触发条件</text></g>
<g id="k25" class="n c5"><rect x="611" y="3714.5" width="153" height="40"/><text x="687.5" y="3734.5">内存分配达到阈值</text></g>
<g id="k26" class="n c5"><rect x="798" y="3714.5" width="187" height="40"/><text x="891.5" y="3734.5">显示调用 runtime.GC()</text></g>
<g id="k27" class="n c5"><rect x="1021" y="3714.5" width="170" height="40"/><text x="1106" y="3734.5">系统定时器自动触发</text></g>
<g id="k28" class="n c5"><rect x="492" y="3764.5" width="48" height="40"/><text x="516" y="3784.5">作用</text></g>
<g id="k29" class="n c5"><rect x="575" y="3764.5" width="468" height="40"/><text x="809" y="3784.5">用于自动管理堆内存，回收不再使用的对象，避免内存泄露</text></g>
<g id="k30" class="n c5"><rect x="492" y="4051.5" width="100" height="40"/><text x="542" y="4071.5">三色标记法</text></g>
<g id="k31" class="n c5"><rect x="627" y="3914.5" width="83" height="40"/><text x="668.5" y="3934.5">三色标记</text></g>
<g id="k32" class="n c5"><rect x="745" y="3814.5" width="329" height="40"/><text x="909.5" y="3834.5">白色：未被扫描，假定不可达，将被回收</text></g>
<g id="k33" class="n c5"><rect x="745" y="3864.5" width="275" height="40"/><text x="882.5" y="3884.5">灰色：可达，但其引用对象未扫描</text></g>
<g id="k34" class="n c5"><rect x="745" y="3914.5" width="294" height="40"/><text x="892" y="3934.5">黑色：可达，且引用对象已扫描完毕</text></g>
<g id="k35" class="n c5"><rect x="745" y="3964.5" width="308" height="40"/><text x="899" y="3984.5">GC 最终回收白色对象，保留黑色对象</text></g>
<g id="k36" class="n c5"><rect x="745" y="4014.5" width="381" height="40"/><text x="935.5" y="4034.5">黑色不能直接引用白色，否则白对象可能会漏标</text></g>
<g id="k37" class="n c5"><rect x="1161" y="4014.5" width="119" height="40"/><text x="1220.5" y="4034.5">导致错误回收</text></g>
<g id="k38" class="n c5"><rect x="627" y="4189.5" width="48" height="40"/><text x="651" y="4209.5">阶段</text></g>
<g id="k39" class="n c5"><rect x="710" y="4064.5" width="126" height="40"/><text x="773" y="4084.5">开始标记 STW</text></g>
<g id="k40" class="n c5"><rect x="871" y="4064.5" width="329" height="40"/><text x="1035.5" y="4084.5">暂停所有协程，保存一致性，标记根对象</text></g>
<g id="k41" class="n c5"><rect x="710" y="4164.5" width="83" height="40"/><text x="751.5" y="4184.5">并发标记</text></g>
<g id="k42" class="n c5"><rect x="828" y="4114.5" width="276" height="40"/><text x="966" y="4134.5">取出灰色对象遍历其引用的堆对象</text></g>
<g id="k43" class="n c5"><rect x="828" y="4164.5" width="489" height="40"/><text x="1072.5" y="4184.5">如果白色标记为灰色，加入灰色队列，遍历完成后标记为黑色</text></g>
<g id="k44" class="n c5"><rect x="828" y="4214.5" width="241" height="40"/><text x="948.5" y="4234.5">不断执行，直至灰色队列为空</text></g>
<g id="k45" class="n c5"><rect x="710" y="4264.5" width="131" height="40"/><text x="775.5" y="4284.5">结束标记 STW</text></g>
<g id="k46" class="n c5"><rect x="876" y="4264.5" width="344" height="40"/><text x="1048" y="4284.5">暂停所有 P，完成剩余标记操作，防止遗漏</text></g>
<g id="k47" class="n c5"><rect x="710" y="4314.5" width="83" height="40"/><text x="751.5" y="4334.5">并发清扫</text></g>
<g id="k48" class="n c5"><rect x="828" y="4314.5" width="312" height="40"/><text x="984" y="4334.5">并发清理所有白色对象，协程继续执行</text></g>
<g id="k49" class="n c5"><rect x="492" y="4489.5" width="100" height="40"/><text x="542" y="4509.5">混合写屏障</text></g>
<g id="k50" class="n c5"><rect x="627" y="4389.5" width="83" height="40"/><text x="668.5" y="4409.5">后写屏障</text></g>
<g id="k51" class="n c5"><rect x="745" y="4364.5" width="83" height="40"/><text x="786.5" y="4384.5">标记阶段</text></g>
<g id="k52" class="n c5"><rect x="864" y="4364.5" width="205" height="40"/><text x="966.5" y="4384.5">在指针字段写入新值之后</text></g>
<g id="k53" class="n c5"><rect x="745" y="4414.5" width="224" height="40"/><text x="857" y="4434.5">防止黑对象直接指向白对象</text></g>
<g id="k54" class="n c5"><rect x="627" y="4489.5" width="83" height="40"/><text x="668.5" y="4509.5">前写屏障</text></g>
<g id="k55" class="n c5"><rect x="745" y="4464.5" width="83" height="40"/><text x="786.5" y="4484.5">清扫阶段</text></g>
<g id="k56" class="n c5"><rect x="864" y="4464.5" width="223" height="40"/><text x="975.5" y="4484.5">在指针字段被写入新值之前</text></g>
<g id="k57" class="n c5"><rect x="745" y="4514.5" width="312" height="40"/><text x="901" y="4534.5">防止旧值（原引用对象）丢失标记机会</text></g>
<g id="k58" class="n c5"><rect x="627" y="4564.5" width="275" height="40"/><text x="764.5" y="4584.5">保障并发三色不变性与低延迟回收</text></g>
<text x="747" y="4618" font-family="'Liberation Sans',sans-serif" font-size="31" fill="#CFCFCF" text-anchor="middle">Presented with <tspan font-weight="700">xmind</tspan></text>
</g>
</svg>
